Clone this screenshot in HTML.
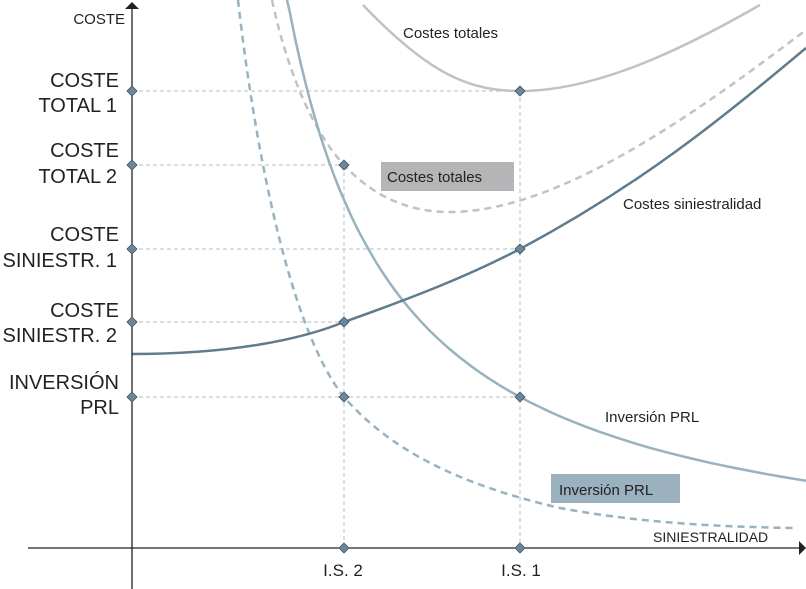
<!DOCTYPE html>
<html><head><meta charset="utf-8"><style>
html,body{margin:0;padding:0;background:#fff;}
svg{display:block;font-family:"Liberation Sans",Arial,sans-serif;}
</style></head><body>
<svg width="806" height="589" viewBox="0 0 806 589" xmlns="http://www.w3.org/2000/svg">
<g stroke="#bbb" stroke-width="1" stroke-dasharray="4,3" fill="none">
<line x1="132" y1="91" x2="520" y2="91"/>
<line x1="132" y1="165" x2="344" y2="165"/>
<line x1="132" y1="249" x2="520" y2="249"/>
<line x1="132" y1="322" x2="344" y2="322"/>
<line x1="132" y1="397" x2="520" y2="397"/>
<line x1="344" y1="165" x2="344" y2="548"/>
<line x1="520" y1="91" x2="520" y2="548"/>
</g>
<g fill="none" stroke-linecap="butt" stroke-linejoin="round">
<path d="M363,5 C430,75 470,91 520,91 C600,91 690,45 760,5" stroke="#c2c2c2" stroke-width="2.5"/>
<path d="M272,0 C287,70 312,130 344,165 C375,198 410,212 450,212 C560,212 700,110 806,30" stroke="#c2c2c2" stroke-width="2.5" stroke-dasharray="7,5"/>
<polyline points="287,0 290,13 295,38 300,60.5 305,81 310,100.5 315,118 320,134.8 325,150 330,164.5 335,178 340,190.5 345,202 350,213.4 355,224 360,233.8 367,246.5 375,260.5 382,271.6 390,283.4 397,293 405,303.2 412,311.5 420,320.5 430,331 440,340.5 450,349.4 460,357.6 470,365.3 480,372.5 490,379.2 500,385.5 510,391.4 520,397 532,403.3 545,409.5 557,415 570,420.5 585,426.4 600,431.9 617,437.7 635,443.4 652,448.4 670,453.2 690,458.1 710,462.8 735,468 760,472.9 783,477 806,480.8" stroke="#98b2bf" stroke-width="2.5"/>
<path d="M238,0 C255,150 290,330 344,397 C390,450 460,485 560,508 C650,525 740,527 795,528" stroke="#98b2bf" stroke-width="2.5" stroke-dasharray="7,5"/>
<path d="M132,354 C230,354 300,340 344,322 C420,295 470,275 520,249 C640,185 720,120 806,48" stroke="#5f7b8d" stroke-width="2.5"/>
</g>
<line x1="132" y1="589" x2="132" y2="8" stroke="#222" stroke-width="1.3"/>
<polygon points="132,2 125,9 139,9" fill="#222"/>
<line x1="28" y1="548" x2="800" y2="548" stroke="#222" stroke-width="1.3"/>
<polygon points="806,548 799,541 799,555" fill="#222"/>
<g fill="#6b8799" stroke="#3e5564" stroke-width="0.8">
<polygon points="132,86 137,91 132,96 127,91"/>
<polygon points="132,160 137,165 132,170 127,165"/>
<polygon points="132,244 137,249 132,254 127,249"/>
<polygon points="132,317 137,322 132,327 127,322"/>
<polygon points="132,392 137,397 132,402 127,397"/>
<polygon points="520,86 525,91 520,96 515,91"/>
<polygon points="344,160 349,165 344,170 339,165"/>
<polygon points="520,244 525,249 520,254 515,249"/>
<polygon points="344,317 349,322 344,327 339,322"/>
<polygon points="344,392 349,397 344,402 339,397"/>
<polygon points="520,392 525,397 520,402 515,397"/>
<polygon points="344,543 349,548 344,553 339,548"/>
<polygon points="520,543 525,548 520,553 515,548"/>
</g>
<rect x="381" y="162" width="133" height="29" fill="#b5b5b7"/>
<rect x="551" y="474" width="129" height="29" fill="#9bb1bf"/>
<g fill="#222">
<text x="125" y="24" font-size="15" text-anchor="end">COSTE</text>
<g font-size="20" text-anchor="end">
<text x="119" y="87">COSTE</text><text x="117" y="112">TOTAL 1</text>
<text x="119" y="157">COSTE</text><text x="117" y="183">TOTAL 2</text>
<text x="119" y="241">COSTE</text><text x="117" y="267">SINIESTR. 1</text>
<text x="119" y="317">COSTE</text><text x="117" y="342">SINIESTR. 2</text>
<text x="119" y="389">INVERSIÓN</text><text x="119" y="414">PRL</text>
</g>
<g font-size="15">
<text x="403" y="38">Costes totales</text>
<text x="387" y="182">Costes totales</text>
<text x="623" y="209">Costes siniestralidad</text>
<text x="605" y="422">Inversión PRL</text>
<text x="559" y="495">Inversión PRL</text>
<text x="653" y="542" font-size="14">SINIESTRALIDAD</text>
</g>
<g font-size="17" text-anchor="middle">
<text x="343" y="576">I.S. 2</text>
<text x="521" y="576">I.S. 1</text>
</g>
</g>
</svg>
</body></html>
